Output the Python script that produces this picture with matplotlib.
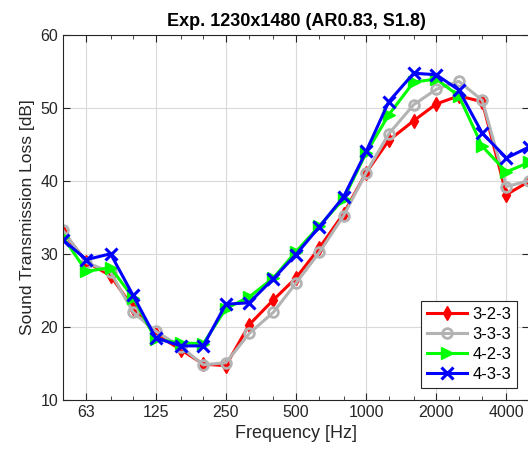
import matplotlib
matplotlib.use("Agg")
import matplotlib.pyplot as plt
from matplotlib.ticker import FixedLocator, NullFormatter

plt.rcParams['font.family'] = ['Liberation Sans', 'DejaVu Sans']

freq = [50, 63, 80, 100, 125, 160, 200, 250, 315, 400, 500, 630, 800,
        1000, 1250, 1600, 2000, 2500, 3150, 4000, 5000]
tl_323 = [33.0, 28.9, 27.0, 22.6, 19.0, 16.9, 14.9, 14.7, 20.3, 23.7, 26.7,
          30.8, 35.5, 41.1, 45.5, 48.2, 50.5, 51.6, 50.8, 38.1, 39.9]
tl_333 = [33.2, 28.8, 27.5, 22.0, 19.4, 17.3, 14.8, 15.1, 19.1, 22.0, 26.0,
          30.2, 35.2, 41.1, 46.4, 50.4, 52.5, 53.6, 51.0, 39.2, 40.0]
tl_423 = [32.3, 27.6, 28.1, 24.0, 18.3, 17.8, 17.7, 22.5, 24.1, 26.7, 30.3,
          33.8, 37.5, 43.8, 49.0, 53.5, 53.9, 51.6, 44.7, 41.2, 42.5]
tl_433 = [31.9, 29.2, 30.0, 24.3, 18.5, 17.4, 17.4, 23.1, 23.3, 26.6, 29.9,
          33.7, 37.8, 44.0, 50.8, 54.7, 54.5, 52.4, 46.5, 43.1, 44.6]
labels = ['3-2-3', '3-3-3', '4-2-3', '4-3-3']
major_f = [63, 125, 250, 500, 1000, 2000, 4000]
minor_f = [50, 80, 100, 160, 200, 315, 400, 630, 800, 1250, 1600, 2500, 3150, 5000]

fig = plt.figure(figsize=(5.28, 4.54), dpi=100)
ax = fig.add_axes([0.1193, 0.119, 0.8826, 0.805])

ax.plot(freq, tl_323, color='red', marker='d', lw=2.2, ms=7, label=labels[0])
ax.plot(freq, tl_333, color=(0.7, 0.7, 0.7), marker='o', mfc='none', mew=2,
        lw=2.2, ms=7, label=labels[1])
ax.plot(freq, tl_423, color=(0, 1, 0), marker='>', lw=2.2, ms=8, label=labels[2])
ax.plot(freq, tl_433, color='blue', marker='x', mew=2.2, lw=2.2, ms=9, label=labels[3])

ax.set_xscale('log')
ax.set_xlim(50, 5000)
ax.set_ylim(10, 60)
ax.xaxis.set_major_locator(FixedLocator(major_f))
ax.set_xticklabels([str(f) for f in major_f])
ax.xaxis.set_minor_locator(FixedLocator(minor_f))
ax.xaxis.set_minor_formatter(NullFormatter())
ax.set_yticks([10, 20, 30, 40, 50, 60])

ax.grid(True, which='major', color=(0.85, 0.85, 0.85), lw=0.8)
ax.set_axisbelow(True)
ax.tick_params(which='both', direction='in', top=True, right=True,
               labelsize=11.5, colors=(0.15, 0.15, 0.15))
ax.tick_params(which='major', length=5)
ax.tick_params(which='minor', length=3)
for s in ax.spines.values():
    s.set_color((0.15, 0.15, 0.15))

ax.set_title('Exp. 1230x1480 (AR0.83, S1.8)', fontsize=13, fontweight='bold')
ax.set_xlabel('Frequency [Hz]', fontsize=13, color=(0.15, 0.15, 0.15))
ax.set_ylabel('Sound Transmission Loss [dB]', fontsize=12.5, color=(0.15, 0.15, 0.15))

leg = ax.legend(loc='lower right', bbox_to_anchor=(0.985, 0.02), fontsize=12,
                fancybox=False, framealpha=1, edgecolor=(0.15, 0.15, 0.15),
                handlelength=2.4, borderpad=0.35, labelspacing=0.3,
                handletextpad=0.3, borderaxespad=0.3)
leg.get_frame().set_linewidth(0.8)

fig.savefig('out.png', dpi=100)
